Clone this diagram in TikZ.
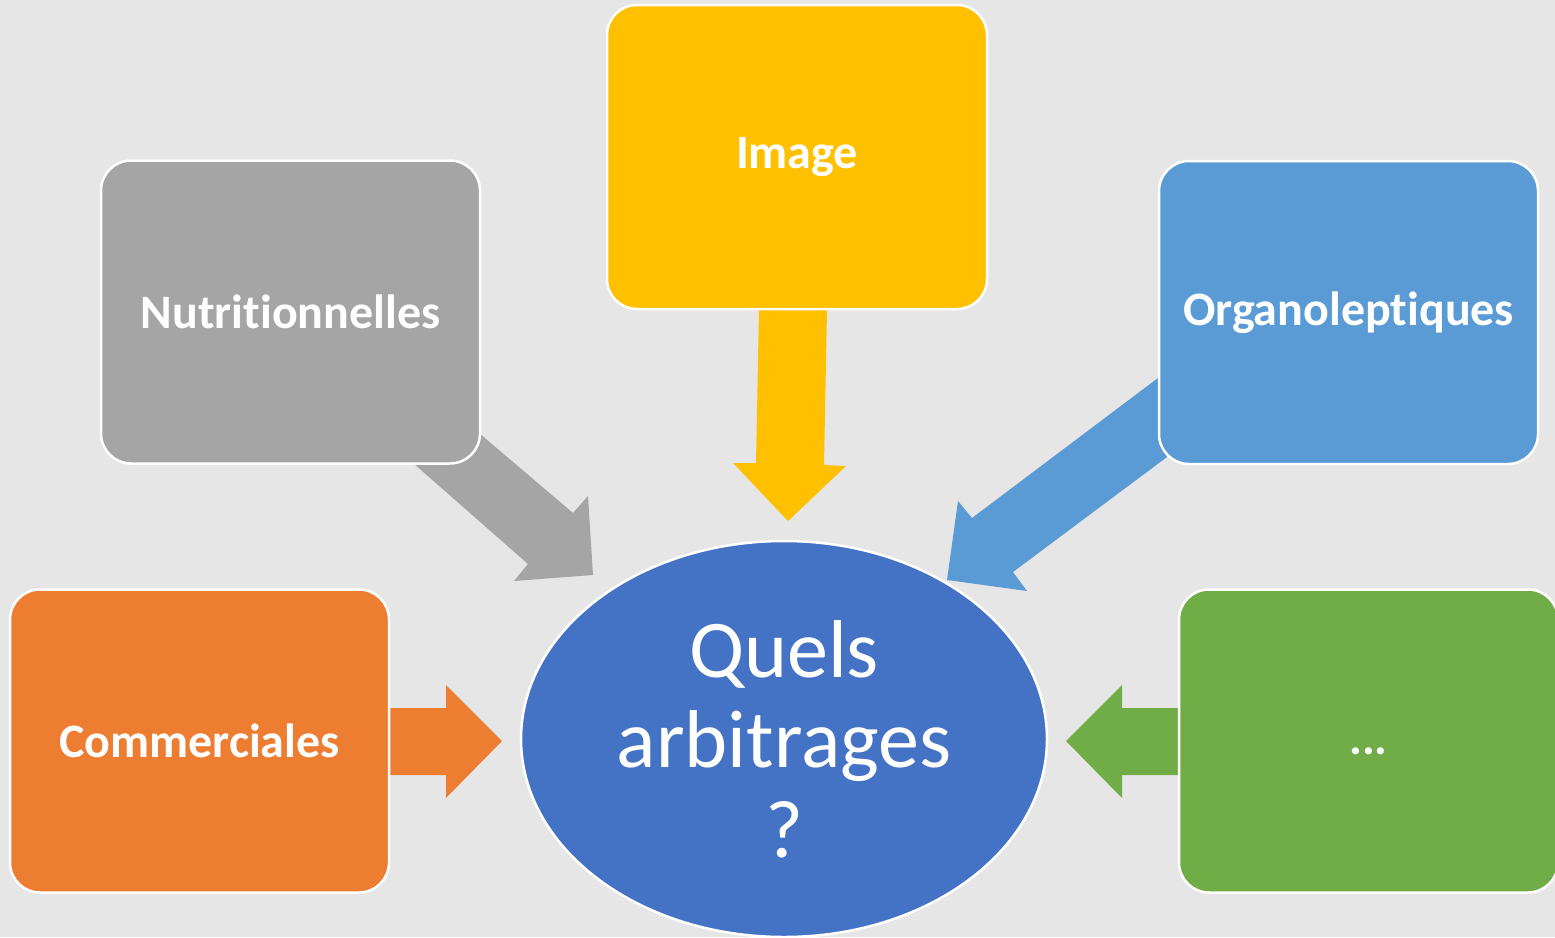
\documentclass[tikz,border=0pt]{standalone}
\usepackage{fontspec}
\setmainfont{Carlito}[Ligatures={NoCommon}]
\usetikzlibrary{shapes.geometric,backgrounds}
\definecolor{bgc}{HTML}{E7E6E6}
\definecolor{cgray}{HTML}{A5A5A5}
\definecolor{cyellow}{HTML}{FFC000}
\definecolor{clblue}{HTML}{5B9BD5}
\definecolor{corange}{HTML}{ED7D31}
\definecolor{cgreen}{HTML}{70AD47}
\definecolor{cdblue}{HTML}{4472C4}
\tikzset{
  box/.style={draw=white, line width=2.5pt, rounded corners=30pt, minimum width=379pt, minimum height=303pt, text=white, font=\fontsize{48}{54}\selectfont\bfseries, inner sep=0pt}
}
\begin{document}
\begin{tikzpicture}[x=1pt,y=-1pt]
\useasboundingbox (0,0) rectangle (1555,937);
\begin{scope}
\clip (0,0) rectangle (1555,937);
\node[box, fill=cyellow, minimum width=380pt, minimum height=304pt] (img) at (797,157) {Image};
\node[box, fill=cgray] (nut) at (290.5,312) {Nutritionnelles};
\node[box, fill=clblue] (org) at (1348.5,312.5) {Organoleptiques};
\node[box, fill=corange] (com) at (199.5,741) {Commerciales};
\node[box, fill=cgreen] (etc) at (1368.5,741) {\smash{\raisebox{-13pt}{...}}};
\node[ellipse, draw=white, line width=2.5pt, fill=cdblue, minimum width=526pt, minimum height=396pt, text=white, align=center, inner sep=0pt, font=\fontsize{82}{90}\selectfont] (q) at (784,739) {Quels\\arbitrages\\?};
\end{scope}
\begin{scope}[on background layer]
\fill[bgc] (0,0) rectangle (1555,937);
% gray arrow
\fill[cgray] (479,433) -- (573,513) -- (588,496) -- (593,575) -- (514,581) -- (528,564) -- (413,463) -- cycle;
% yellow arrow
\fill[cyellow] (759,309) -- (827,309) -- (824,465) -- (846,466) -- (788,521) -- (733,463) -- (756,463) -- cycle;
% blue arrow
\fill[clblue] (1158,378) -- (972,518) -- (958,501) -- (947,580) -- (1027,591) -- (1013,572) -- (1167,457) -- cycle;
% orange arrow
\fill[corange] (389,708) -- (446,708) -- (446,685) -- (502,741) -- (446,798) -- (446,775) -- (389,775) -- cycle;
% green arrow
\fill[cgreen] (1179,708) -- (1122,708) -- (1122,685) -- (1066,741) -- (1122,798) -- (1122,775) -- (1179,775) -- cycle;
\end{scope}
\end{tikzpicture}
\end{document}
